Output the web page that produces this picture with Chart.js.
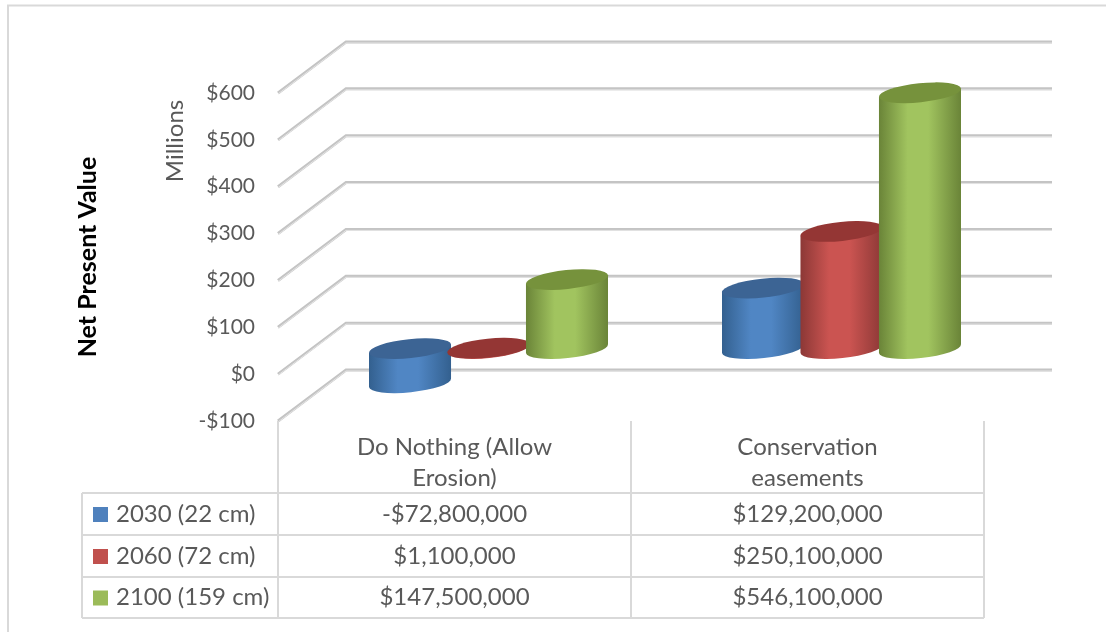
<!DOCTYPE html>
<html>
<head>
<meta charset="utf-8">
<title>Net Present Value</title>
<script src="https://cdn.jsdelivr.net/npm/chart.js@4/dist/chart.umd.min.js"></script>
<style>
  html, body { margin: 0; padding: 0; background: #fff; }
  canvas { display: block; }
</style>
</head>
<body>
<canvas id="npvChart" width="1106" height="632"></canvas>
<script>
// Data
var categories = [['Do Nothing (Allow', 'Erosion)'], ['Conservation', 'easements']];
var seriesNames = ['2030 (22 cm)', '2060 (72 cm)', '2100 (159 cm)'];
var values2030 = [-72800000, 129200000];
var values2060 = [1100000, 250100000];
var values2100 = [147500000, 546100000];

// Colours per series: edge of the cylinder, lit middle, top cap, table swatch
var colors = [
    { edge: '#33608f', mid: '#5086c4', cap: '#3c6494', key: '#4f81bd' },
    { edge: '#8c3836', mid: '#cb5451', cap: '#943634', key: '#c0504d' },
    { edge: '#6a8438', mid: '#a1c45f', cap: '#76923c', key: '#9bbb59' }
];

var FONT = 'Lato, "Open Sans", sans-serif';
var TEXT = '#595959';
var LINE = '#d9d9d9';

// 3D look: the floor runs this far back from the front of the plot
var DEPTH_X = 68;
var DEPTH_Y = -51;
var TILT = -6 * Math.PI / 180;
var CAP_B = 9.5;

function money(v) {
    return (v < 0 ? '-' : '') + '$' + Math.abs(v).toLocaleString('en-US');
}

// Walls: the grid lines come forward from the back wall to the y axis
var gridPlugin = {
    id: 'walls',
    beforeDatasetsDraw: function(chart) {
        var ctx = chart.ctx, area = chart.chartArea, y = chart.scales.y;
        ctx.save();
        ctx.lineJoin = 'miter';
        y.ticks.forEach(function(t) {
            var py = y.getPixelForValue(t.value);
            [['#c4c4c4', 3, 0], ['#e4e4e4', 1, 1]].forEach(function(s) {
                ctx.strokeStyle = s[0];
                ctx.lineWidth = s[1];
                ctx.beginPath();
                ctx.moveTo(area.left, py + s[2]);
                ctx.lineTo(area.left + DEPTH_X, py + DEPTH_Y + s[2]);
                ctx.lineTo(area.right + DEPTH_X, py + DEPTH_Y + s[2]);
                ctx.stroke();
            });
        });
        ctx.restore();
    }
};

function drawCylinder(ctx, bar, c) {
    var cx = bar.x + DEPTH_X / 2;
    var a = bar.width / 2 + 2;
    var top = Math.min(bar.y, bar.base) + DEPTH_Y / 2;
    var bottom = Math.max(bar.y, bar.base) + DEPTH_Y / 2;
    var ex = a * Math.cos(TILT), ey = a * Math.sin(TILT);

    var g = ctx.createLinearGradient(cx - ex, 0, cx + ex, 0);
    g.addColorStop(0, c.edge);
    g.addColorStop(0.35, c.mid);
    g.addColorStop(0.6, c.mid);
    g.addColorStop(1, c.edge);

    ctx.fillStyle = g;
    ctx.beginPath();
    ctx.moveTo(cx - ex, top - ey);
    ctx.lineTo(cx - ex, bottom - ey);
    ctx.ellipse(cx, bottom, a, CAP_B, TILT, Math.PI, 0, true);
    ctx.lineTo(cx + ex, top + ey);
    ctx.closePath();
    ctx.fill();

    ctx.fillStyle = c.cap;
    ctx.beginPath();
    ctx.ellipse(cx, top, a, CAP_B, TILT, 0, Math.PI * 2);
    ctx.fill();
}

// Cylinders are drawn from the bar elements, so they follow the scales.
// First series first, later ones sit in front of it.
var cylinderPlugin = {
    id: 'cylinders',
    beforeDatasetsDraw: function(chart) {
        chart.data.datasets.forEach(function(ds, i) {
            chart.getDatasetMeta(i).data.forEach(function(bar) {
                drawCylinder(chart.ctx, bar, colors[i]);
            });
        });
        return false;
    }
};

// Data table under the plot, frame and the Millions label
var tablePlugin = {
    id: 'dataTable',
    afterDraw: function(chart) {
        var ctx = chart.ctx, area = chart.chartArea, x = chart.scales.x;
        var rows = [493, 535, 577, 618];
        var tableLeft = 82;
        var split = (x.getPixelForTick(0) + x.getPixelForTick(1)) / 2;

        ctx.save();
        ctx.strokeStyle = LINE;
        ctx.lineWidth = 2;

        // only the top and left edges of the frame are in the picture
        ctx.beginPath();
        ctx.moveTo(8, 632);
        ctx.lineTo(8, 5.5);
        ctx.lineTo(1106, 5.5);
        ctx.stroke();

        rows.forEach(function(r) {
            ctx.beginPath();
            ctx.moveTo(tableLeft, r);
            ctx.lineTo(area.right, r);
            ctx.stroke();
        });
        ctx.beginPath();
        ctx.moveTo(tableLeft, rows[0]);
        ctx.lineTo(tableLeft, rows[3]);
        [area.left, split, area.right].forEach(function(px) {
            ctx.moveTo(px, area.bottom);
            ctx.lineTo(px, rows[3]);
        });
        ctx.stroke();

        ctx.font = '24px ' + FONT;
        ctx.textBaseline = 'middle';
        chart.data.datasets.forEach(function(ds, i) {
            var mid = (rows[i] + rows[i + 1]) / 2;
            ctx.fillStyle = colors[i].key;
            ctx.fillRect(93, mid - 7, 15, 15);
            ctx.fillStyle = TEXT;
            ctx.textAlign = 'left';
            ctx.fillText(ds.label, 116, mid);
            ctx.textAlign = 'center';
            ds.data.forEach(function(v, j) {
                ctx.fillText(money(v), x.getPixelForTick(j), mid);
            });
        });

        ctx.translate(175, 141);
        ctx.rotate(-Math.PI / 2);
        ctx.textAlign = 'center';
        ctx.fillText('Millions', 0, 0);
        ctx.restore();
    }
};

var chart = new Chart(document.getElementById('npvChart').getContext('2d'), {
    type: 'bar',
    data: {
        labels: categories,
        datasets: [
            { label: seriesNames[0], data: values2030, backgroundColor: colors[0].key },
            { label: seriesNames[1], data: values2060, backgroundColor: colors[1].key },
            { label: seriesNames[2], data: values2100, backgroundColor: colors[2].key }
        ]
    },
    options: {
        responsive: false,
        animation: false,
        categoryPercentage: 0.667,
        barPercentage: 1,
        layout: { padding: { left: 73, top: 93, right: 122, bottom: 0 } },
        plugins: { legend: { display: false }, tooltip: { enabled: false }, title: { display: false } },
        scales: {
            x: {
                grid: { display: false, drawTicks: false },
                border: { display: false },
                ticks: {
                    color: TEXT,
                    padding: 10,
                    maxRotation: 0,
                    autoSkip: false,
                    font: { family: FONT, size: 24, lineHeight: 1.32 }
                },
                afterFit: function(scale) { scale.height = 211; }
            },
            y: {
                min: -100000000,
                max: 600000000,
                grid: { display: false, drawTicks: false },
                border: { display: false },
                title: {
                    display: true,
                    text: 'Net Present Value',
                    color: '#000',
                    padding: 0,
                    font: { family: FONT, size: 25, weight: 'bold', lineHeight: 1.2 }
                },
                ticks: {
                    stepSize: 100000000,
                    color: TEXT,
                    padding: 23,
                    font: { family: FONT, size: 21 },
                    callback: function(v) {
                        return (v < 0 ? '-' : '') + '$' + Math.abs(v) / 1000000;
                    }
                },
                afterFit: function(scale) { scale.width = 205; }
            }
        }
    },
    plugins: [gridPlugin, cylinderPlugin, tablePlugin]
});
</script>
</body>
</html>
